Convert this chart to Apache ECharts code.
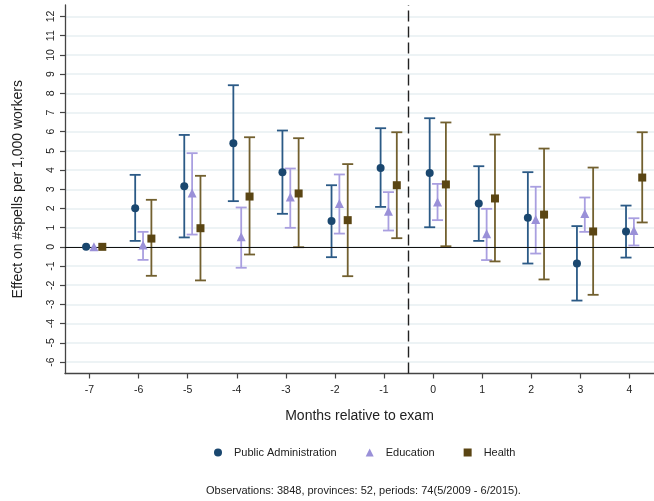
<!DOCTYPE html>
<html>
<head>
<meta charset="utf-8">
<script src="https://cdn.jsdelivr.net/npm/echarts@6/dist/echarts.min.js"></script>
<style>
  html, body { margin: 0; padding: 0; background: #fff; }
  #chart { width: 654px; height: 501px; }
</style>
</head>
<body>
<div id="chart"></div>
<script>
// Months relative to the exam (event time) and axis tick values
const months = [-7, -6, -5, -4, -3, -2, -1, 0, 1, 2, 3, 4];
const yTicks = [-6, -5, -4, -3, -2, -1, 0, 1, 2, 3, 4, 5, 6, 7, 8, 9, 10, 11, 12];

// Point estimates and 95% confidence bounds (month -7 is the reference period)
const paEst = [0, 2.01, 3.16, 5.40, 3.89, 1.34, 4.11, 3.85, 2.26, 1.51, -0.87, 0.80];
const paLo  = [null, 0.31, 0.49, 2.38, 1.72, -0.54, 2.08, 1.02, 0.31, -0.87, -2.80, -0.56];
const paHi  = [null, 3.75, 5.83, 8.42, 6.06, 3.21, 6.18, 6.70, 4.20, 3.89, 1.08, 2.15];

const eduEst = [0, 0.09, 2.80, 0.52, 2.60, 2.26, 1.86, 2.34, 0.68, 1.42, 1.74, 0.85];
const eduLo  = [null, -0.68, 0.64, -1.09, 0.99, 0.69, 0.85, 1.39, -0.69, -0.35, 0.78, 0.07];
const eduHi  = [null, 0.78, 4.88, 2.05, 4.08, 3.77, 2.85, 3.28, 1.98, 3.13, 2.57, 1.49];

const healthEst = [0, 0.43, 0.97, 2.62, 2.78, 1.39, 3.21, 3.25, 2.52, 1.68, 0.80, 3.61];
const healthLo  = [null, -1.51, -1.75, -0.40, -0.02, -1.53, 0.45, 0.03, -0.76, -1.70, -2.50, 1.27];
const healthHi  = [null, 2.45, 3.70, 5.71, 5.66, 4.31, 5.97, 6.48, 5.85, 5.12, 4.13, 5.97];

const seriesNames = ['Public Administration', 'Education', 'Health'];
const footnote = 'Observations: 3848, provinces: 52, periods: 74(5/2009 - 6/2015).';

// Horizontal dodge of each group around the month value
const dodge = [-0.07, 0.09, 0.26];

const FONT = '"Liberation Sans", Arial, Helvetica, sans-serif';
const markerColors = ['#1a476f', '#9a90d8', '#5a4513'];
const barColors = ['#2b5a86', '#a99fe0', '#72602f'];

function ciSeries(idx, lo, hi) {
  const data = [];
  months.forEach((m, i) => {
    if (lo[i] != null) data.push([m + dodge[idx], lo[i], hi[i]]);
  });
  return {
    type: 'custom',
    name: seriesNames[idx] + ' CI',
    data: data,
    z: 3,
    silent: true,
    encode: { x: 0, y: [1, 2] },
    renderItem: function (params, api) {
      const x = api.value(0);
      const p1 = api.coord([x, api.value(2)]);
      const p0 = api.coord([x, api.value(1)]);
      const hw = 5.5;
      const style = { stroke: barColors[idx], lineWidth: 1.8, fill: null };
      return {
        type: 'group',
        children: [
          { type: 'line', shape: { x1: p1[0], y1: p1[1], x2: p0[0], y2: p0[1] }, style: style },
          { type: 'line', shape: { x1: p1[0] - hw, y1: p1[1], x2: p1[0] + hw, y2: p1[1] }, style: style },
          { type: 'line', shape: { x1: p0[0] - hw, y1: p0[1], x2: p0[0] + hw, y2: p0[1] }, style: style }
        ]
      };
    }
  };
}

function pointSeries(idx, est, symbol, size) {
  return {
    type: 'scatter',
    name: seriesNames[idx],
    data: months.map((m, i) => [m + dodge[idx], est[i]]),
    symbol: symbol,
    symbolSize: size,
    z: 5,
    silent: true,
    itemStyle: { color: markerColors[idx], opacity: 1 }
  };
}

const chart = echarts.init(document.getElementById('chart'), null, { renderer: 'canvas' });

chart.setOption({
  animation: false,
  backgroundColor: '#fff',
  textStyle: { fontFamily: FONT },
  title: {
    text: footnote,
    left: 206,
    top: 485,
    padding: 0,
    textStyle: { fontSize: 11, fontWeight: 'normal', color: '#222', fontFamily: FONT }
  },
  legend: {
    left: 214,
    top: 447,
    padding: 0,
    itemWidth: 8,
    itemHeight: 8,
    itemGap: 29,
    symbolKeepAspect: true,
    selectedMode: false,
    textStyle: { fontSize: 11, color: '#222', fontFamily: FONT, padding: [0, 0, 0, 7] },
    data: [
      { name: seriesNames[0], icon: 'circle' },
      { name: seriesNames[1], icon: 'triangle' },
      { name: seriesNames[2], icon: 'rect' }
    ]
  },
  grid: { left: 65, right: -9, top: 5, bottom: 127.5, containLabel: false },
  xAxis: {
    type: 'value',
    min: -7.5,
    max: 4.5,
    name: 'Months relative to exam',
    nameLocation: 'middle',
    nameGap: 36,
    nameTextStyle: { fontSize: 14, color: '#222', fontFamily: FONT },
    axisLine: { onZero: false, lineStyle: { color: '#444', width: 1.3 } },
    axisTick: { show: true, length: 5, customValues: months, lineStyle: { color: '#444', width: 1.2 } },
    axisLabel: { customValues: months, margin: 11, fontSize: 10.5, color: '#222', fontFamily: FONT },
    splitLine: { show: false }
  },
  yAxis: {
    type: 'value',
    min: -6.6,
    max: 12.6,
    name: 'Effect on #spells per 1,000 workers',
    nameLocation: 'middle',
    nameGap: 40,
    nameRotate: 90,
    nameTextStyle: { fontSize: 14, color: '#222', fontFamily: FONT },
    axisLine: { show: true, onZero: false, lineStyle: { color: '#444', width: 1.3 } },
    axisTick: { show: true, length: 5, customValues: yTicks, lineStyle: { color: '#444', width: 1.2 } },
    axisLabel: { customValues: yTicks, rotate: 90, margin: 8, fontSize: 10.5, color: '#222', fontFamily: FONT },
    splitLine: { show: true, lineStyle: { color: '#e7eff2', width: 1.5 } }
  },
  series: [
    {
      type: 'line',
      name: 'reference lines',
      data: [],
      silent: true,
      markLine: {
        silent: true,
        symbol: 'none',
        label: { show: false },
        data: [
          { yAxis: 0, lineStyle: { color: '#111', width: 1.2, type: 'solid' } },
          { xAxis: -0.5, lineStyle: { color: '#222', width: 1.4, type: [11, 5] } }
        ]
      },
      z: 2
    },
    ciSeries(0, paLo, paHi),
    ciSeries(1, eduLo, eduHi),
    ciSeries(2, healthLo, healthHi),
    pointSeries(0, paEst, 'circle', 8),
    pointSeries(1, eduEst, 'triangle', 9),
    pointSeries(2, healthEst, 'rect', 8)
  ]
});
</script>
</body>
</html>
